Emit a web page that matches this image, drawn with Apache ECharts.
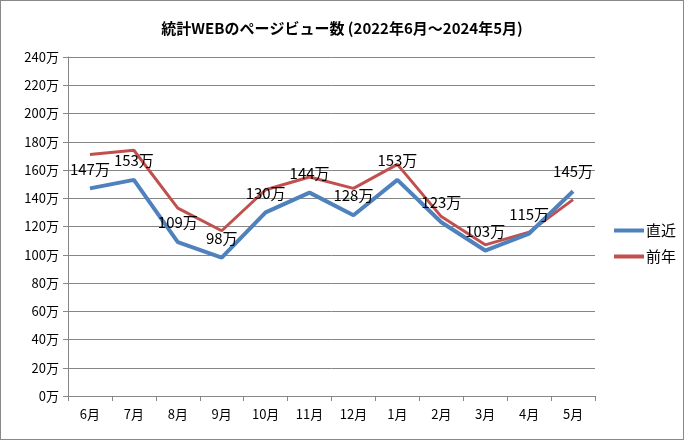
<!DOCTYPE html>
<html><head><meta charset="utf-8">
<script src="https://cdn.jsdelivr.net/npm/echarts@6/dist/echarts.min.js"></script>
<style>
html,body{margin:0;padding:0;background:#fff;}
#c{position:absolute;left:0;top:0;width:682px;height:438px;border:1px solid #888;}
</style></head>
<body><div id="c"></div>
<script>
const categories = ['6月','7月','8月','9月','10月','11月','12月','1月','2月','3月','4月','5月'];
const recent = [147,153,109,98,130,144,128,153,123,103,115,145];
const lastYear = [171,174,133,117,146,155,147,164,127,107,116,139];
const yTicks = {min:0, max:240, interval:20};
const font = '"Noto Sans CJK JP", sans-serif';
const chart = echarts.init(document.getElementById('c'), null, {renderer:'canvas'});
chart.setOption({
  animation:false,
  title:{text:'統計WEBのページビュー数 (2022年6月～2024年5月)', left:'center', top:15,
    textStyle:{fontFamily:font, fontSize:15, fontWeight:'bold', color:'#000'}},
  grid:{left:67, right:88, top:56, bottom:43},
  legend:{orient:'vertical', left:608, top:217, itemWidth:30, itemHeight:4, itemGap:11,
    icon:'rect',
    textStyle:{fontFamily:font, fontSize:15, color:'#000', padding:[0,0,0,-3]},
    data:['直近','前年']},
  xAxis:{type:'category', data:categories, boundaryGap:true,
    axisLine:{lineStyle:{color:'#868686'}},
    axisTick:{show:true, alignWithLabel:false, length:5, lineStyle:{color:'#868686'}},
    axisLabel:{fontFamily:font, fontSize:13, color:'#000', margin:12}},
  yAxis:{type:'value', min:yTicks.min, max:yTicks.max, interval:yTicks.interval,
    axisLine:{show:true, lineStyle:{color:'#868686'}},
    axisTick:{show:true, length:5, lineStyle:{color:'#868686'}},
    splitLine:{lineStyle:{color:'#868686'}},
    axisLabel:{fontFamily:font, fontSize:13, color:'#000', margin:9, formatter:v=>v+'万'}},
  series:[
    {name:'直近', type:'line', data:recent, symbol:'circle', symbolSize:0, showSymbol:true, z:2,
      lineStyle:{color:'#4F81BD', width:4}, itemStyle:{color:'#4F81BD'},
      label:{show:true, position:'top', distance:12, fontFamily:font, fontSize:15, color:'#000', formatter:p=>p.value+'万'}},
    {name:'前年', type:'line', data:lastYear, symbol:'none', z:1,
      lineStyle:{color:'#C0504D', width:3}, itemStyle:{color:'#C0504D'}}
  ]
});
</script></body></html>
